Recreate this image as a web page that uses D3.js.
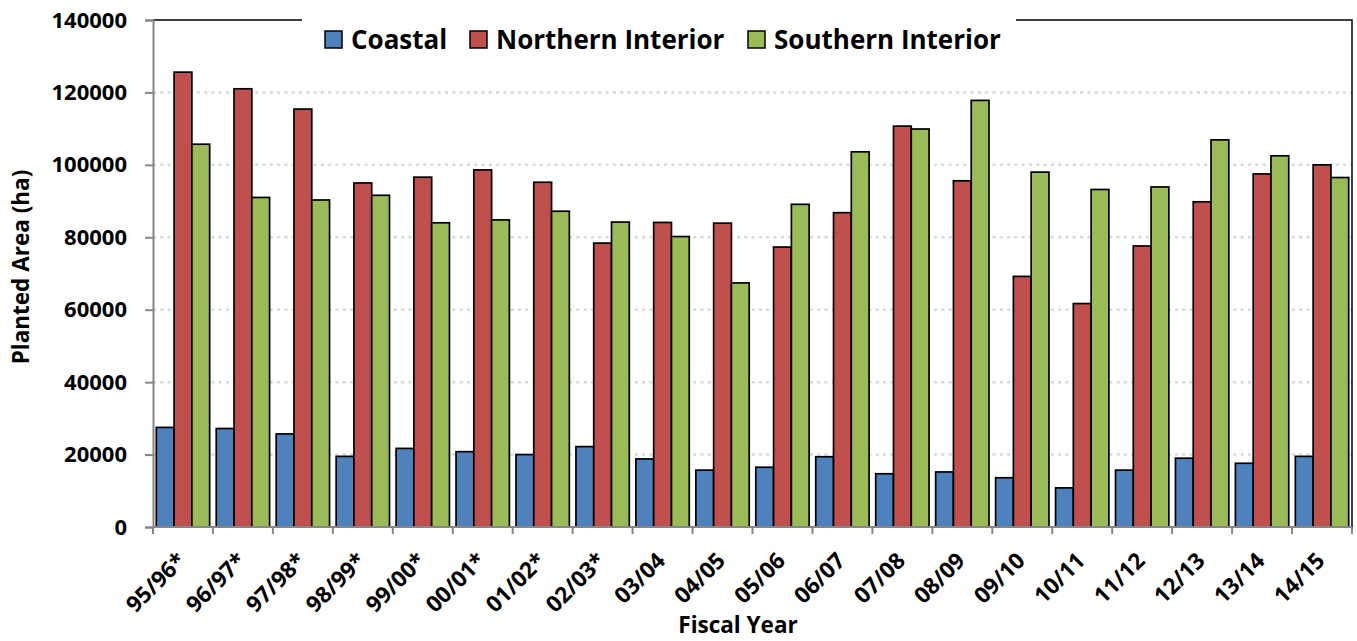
<!DOCTYPE html>
<html>
<head>
<meta charset="utf-8">
<script src="https://cdn.jsdelivr.net/npm/d3@7"></script>
<style>
  html, body { margin: 0; padding: 0; background: #fff; }
  svg text { font-family: "Open Sans", Lato, sans-serif; font-weight: bold; fill: #000; }
</style>
</head>
<body>
<svg id="chart" width="1357" height="641"></svg>
<script>
// Planted area by fiscal year and region (hectares)
const years = ["95/96*", "96/97*", "97/98*", "98/99*", "99/00*", "00/01*", "01/02*", "02/03*",
  "03/04", "04/05", "05/06", "06/07", "07/08", "08/09", "09/10", "10/11", "11/12", "12/13", "13/14", "14/15"];
const seriesNames = ["Coastal", "Northern Interior", "Southern Interior"];
const coastal = [27500, 27200, 25700, 19500, 21700, 20800, 20000, 22200, 18800, 15700,
  16500, 19400, 14700, 15200, 13600, 10800, 15700, 19000, 17600, 19500];
const northern = [125600, 121000, 115400, 95000, 96600, 98600, 95200, 78400, 84100, 83900,
  77300, 86800, 110700, 95600, 69200, 61700, 77600, 89800, 97500, 100000];
const southern = [105700, 91000, 90300, 91600, 84000, 84800, 87200, 84200, 80200, 67400,
  89100, 103600, 109900, 117800, 98000, 93200, 93900, 106900, 102500, 96500];
const yTicks = [0, 20000, 40000, 60000, 80000, 100000, 120000, 140000];
const colors = ["#4F81BD", "#C0504D", "#9BBB59"];

const seriesValues = [coastal, northern, southern];
const svg = d3.select("#chart");
const plot = { left: 153, right: 1352, top: 20, bottom: 527 };

const x0 = d3.scaleBand().domain(years).range([plot.left, plot.right]).padding(0);
const bw = x0.bandwidth();
const x1 = d3.scaleBand().domain(seriesNames).range([bw * 0.055, bw * 0.945]).padding(0);
const y = d3.scaleLinear().domain([0, 140000]).range([plot.bottom, plot.top]);

// horizontal dotted gridlines
svg.append("g").selectAll("line")
  .data(yTicks.filter(d => d > 0 && d < 140000))
  .join("line")
  .attr("x1", plot.left).attr("x2", plot.right)
  .attr("y1", d => y(d)).attr("y2", d => y(d))
  .attr("stroke", "#d9d9d9").attr("stroke-width", 2.5)
  .attr("stroke-dasharray", "3,4.3");

// bars
const groups = svg.append("g").selectAll("g")
  .data(years)
  .join("g")
  .attr("transform", d => `translate(${x0(d)},0)`);
groups.selectAll("rect")
  .data((d, i) => seriesNames.map((s, k) => ({ s, k, v: seriesValues[k][i] })))
  .join("rect")
  .attr("x", d => x1(d.s))
  .attr("y", d => y(d.v))
  .attr("width", x1.bandwidth())
  .attr("height", d => y(0) - y(d.v))
  .attr("fill", d => colors[d.k])
  .attr("stroke", "#000").attr("stroke-width", 1.7);

// top and right frame
svg.append("path")
  .attr("d", `M${plot.left},${plot.top}H${plot.right}V${plot.bottom}`)
  .attr("fill", "none").attr("stroke", "#000").attr("stroke-width", 1.5);

// y axis
const yAxis = svg.append("g")
  .attr("transform", `translate(${plot.left},0)`)
  .call(d3.axisLeft(y).tickValues(yTicks).tickSize(8).tickPadding(18).tickFormat(d3.format("d")));
yAxis.select(".domain").attr("stroke", "#868686").attr("stroke-width", 2);
yAxis.selectAll(".tick line").attr("stroke", "#868686").attr("stroke-width", 2);
yAxis.selectAll("text").style("font-size", "22px").attr("fill", "#000");

// x axis with ticks on category boundaries
const xAxisG = svg.append("g").attr("transform", `translate(0,${plot.bottom})`);
xAxisG.append("line")
  .attr("x1", plot.left).attr("x2", plot.right)
  .attr("stroke", "#868686").attr("stroke-width", 2);
xAxisG.selectAll("line.tk")
  .data(years.map(d => x0(d)).concat([plot.right]))
  .join("line").attr("class", "tk")
  .attr("x1", d => d).attr("x2", d => d)
  .attr("y1", 0).attr("y2", 7)
  .attr("stroke", "#868686").attr("stroke-width", 2);
xAxisG.selectAll("text")
  .data(years)
  .join("text")
  .attr("transform", d => `translate(${x0(d) + bw / 2 - 7},${24}) rotate(-45)`)
  .attr("text-anchor", "end")
  .attr("dy", "0.7em")
  .style("font-size", "22.5px")
  .text(d => d);

// axis titles
svg.append("text")
  .attr("transform", `translate(29,${267}) rotate(-90)`)
  .attr("text-anchor", "middle")
  .style("font-size", "22.5px")
  .text("Planted Area (ha)");
svg.append("text")
  .attr("x", 738).attr("y", 633)
  .attr("text-anchor", "middle")
  .style("font-size", "22.5px")
  .text("Fiscal Year");

// legend box over the top frame
svg.append("rect").attr("x", 302).attr("y", 12).attr("width", 714).attr("height", 50).attr("fill", "#fff");
const legendX = [325, 470, 748];
const legend = svg.append("g").selectAll("g")
  .data(seriesNames)
  .join("g")
  .attr("transform", (d, i) => `translate(${legendX[i]},31)`);
legend.append("rect")
  .attr("width", 17).attr("height", 17)
  .attr("fill", (d, i) => colors[i])
  .attr("stroke", "#000").attr("stroke-width", 1.5);
legend.append("text")
  .attr("x", 26).attr("y", 18)
  .style("font-size", "26px")
  .text(d => d);
</script>
</body>
</html>
